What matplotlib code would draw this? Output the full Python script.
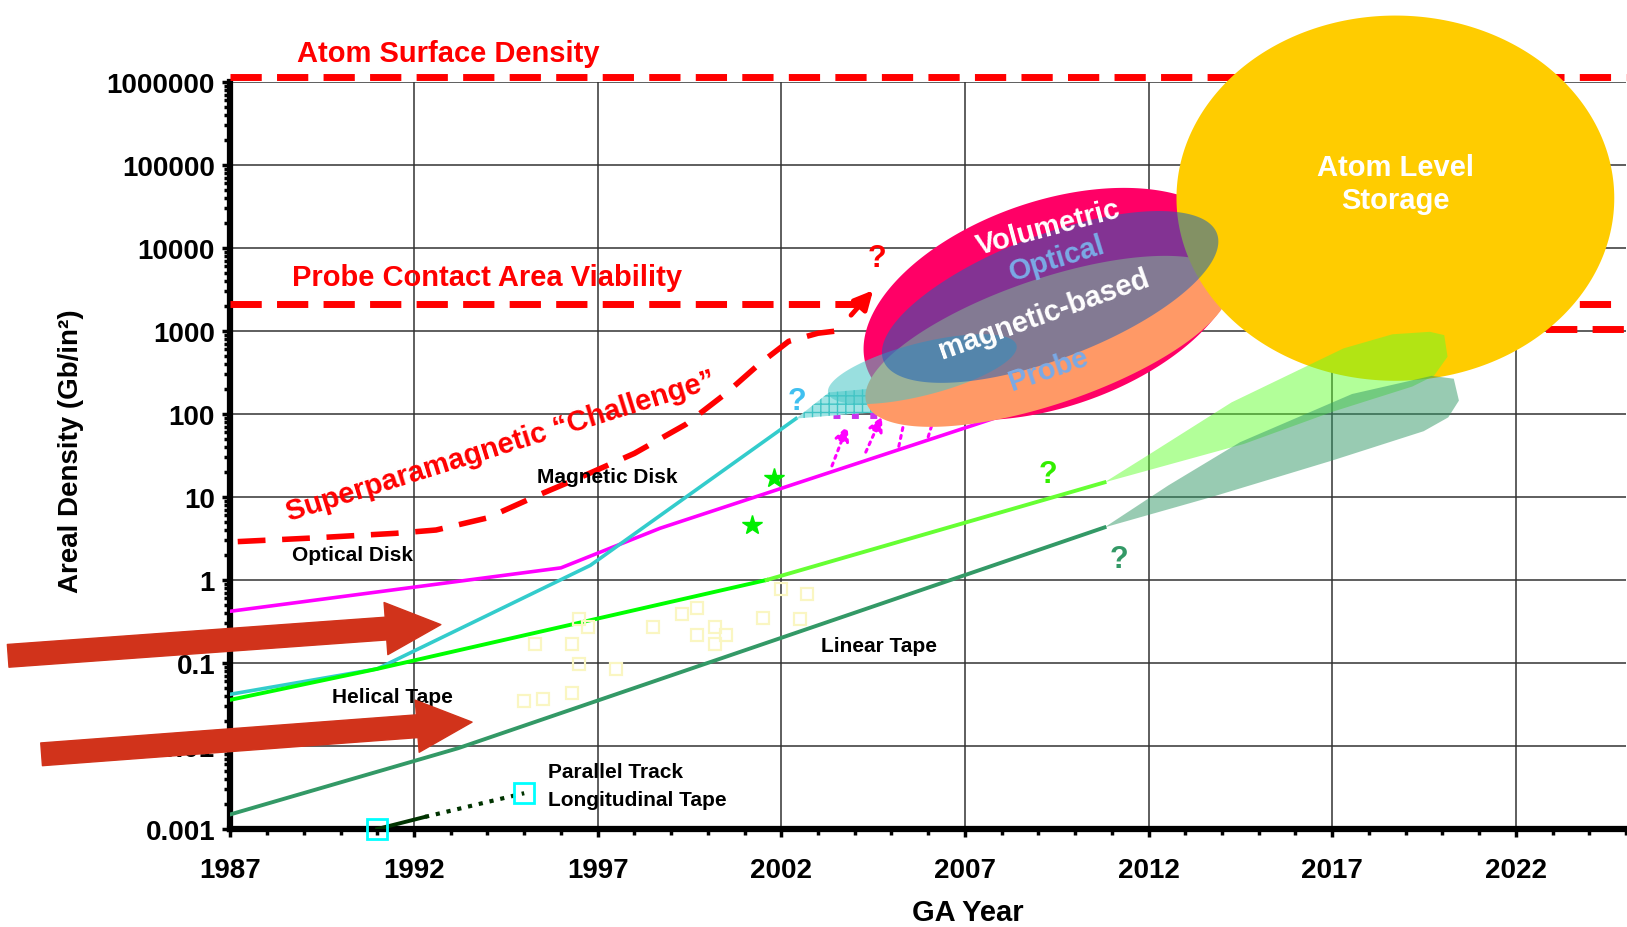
import numpy as np
import matplotlib
matplotlib.use("Agg")
import matplotlib.pyplot as plt
from matplotlib.patches import Polygon
from matplotlib.ticker import LogLocator, NullFormatter, MultipleLocator

plt.rcParams['font.family'] = ['Liberation Sans', 'DejaVu Sans']
plt.rcParams['font.weight'] = 'bold'

# ---- data: GA year vs areal density (Gb/in^2) ----
disk_years = [1987, 1996, 1998.7, 2008]
disk_vals = [0.42, 1.4, 4.2, 95]

optical_years = [1987, 1991, 1996.8, 2002.4]
optical_vals = [0.042, 0.085, 1.5, 88]

helical_years = [1987, 1991, 2001.6]
helical_vals = [0.036, 0.085, 1.0]
helical_proj_years = [2001.6, 2010.8]
helical_proj_vals = [1.0, 15]

linear_years = [1987, 1993.2, 2010.8]
linear_vals = [0.0015, 0.0094, 4.3]

parallel_years = [1991, 1992.3]
parallel_vals = [0.001, 0.0014]
parallel_dot_years = [1992.3, 1995]
parallel_dot_vals = [0.0014, 0.0027]
parallel_pt_years = [1991, 1995]
parallel_pt_vals = [0.001, 0.0027]

spm_years = [1987.2, 1989.2, 1991.5, 1992.6, 1994.0, 1995.4, 1996.6, 1998.0,
             1999.4, 2000.5, 2001.4, 2002.2, 2003.0, 2003.5]
spm_vals = [2.9, 3.2, 3.65, 4.0, 5.6, 10.6, 17.8, 33.5, 75, 178, 400, 750, 940, 1000]

tape_years = [1995.0, 1995.3, 1995.5, 1996.3, 1996.3, 1996.5, 1996.5, 1996.75, 1997.5, 1998.5,
              1999.3, 1999.7, 1999.7, 2000.2, 2000.2, 2000.5, 2001.5, 2002.0, 2002.5, 2002.7]
tape_vals = [0.035, 0.17, 0.037, 0.17, 0.043, 0.34, 0.096, 0.27, 0.085, 0.27,
             0.39, 0.46, 0.22, 0.27, 0.17, 0.22, 0.35, 0.77, 0.34, 0.68]

star_years = [2001.8, 2001.2]
star_vals = [16.8, 4.6]

push_start_years = [2003.38, 2004.3, 2005.2, 2006.0]
push_start_vals = [23.7, 34.7, 40.7, 53]
push_end_years = [2003.8, 2004.74, 2005.36, 2006.15]
push_end_vals = [72, 94, 87, 87]

cyan_fan_years = [2002.4, 2003.3, 2005.6, 2006.15, 2003.9]
cyan_fan_vals = [88, 182, 224, 115, 100]

green_fan_years = [2010.8, 2011.97, 2014.26, 2017.31, 2018.64, 2019.66, 2020.05, 2020.14,
                   2019.77, 2019.18, 2017.0, 2014.6]
green_fan_vals = [15, 31.6, 138, 617, 912, 977, 891, 490, 288, 214, 106, 43.6]

dark_fan_years = [2010.8, 2012.54, 2014.49, 2017.54, 2019.71, 2020.31, 2020.45, 2020.16,
                  2019.49, 2017.0, 2013.72]
dark_fan_vals = [4.3, 13.8, 45.7, 174, 288, 266, 145, 91, 62, 27.5, 10]

ytick_vals = [0.001, 0.01, 0.1, 1, 10, 100, 1000, 10000, 100000, 1000000]
ytick_labels = ['0.001', '0.01', '0.1', '1', '10', '100', '1000', '10000', '100000', '1000000']
xtick_years = [1987, 1992, 1997, 2002, 2007, 2012, 2017, 2022]


def blob(cx, clog, half_w, half_h, slope, n=300):
    # ellipse in (year, log10 density) space
    t = np.linspace(0, 2 * np.pi, n)
    yr = cx + half_w * np.cos(t)
    lg = clog + slope * half_w * np.cos(t) + half_h * np.sin(t)
    return np.column_stack([yr, 10 ** lg])


fig = plt.figure(figsize=(16.27, 9.28), dpi=100)
ax = fig.add_axes([0.1416, 0.1056, 0.8578, 0.805])
ax.set_yscale('log')
ax.set_xlim(1987, 2025)
ax.set_ylim(0.001, 1e6)

ax.set_axisbelow(True)
ax.grid(True, which='major', color='#333333', lw=1.1)
for s in ['top', 'right']:
    ax.spines[s].set_visible(False)
for s in ['left', 'bottom']:
    ax.spines[s].set_linewidth(4.5)

ax.set_yticks(ytick_vals)
ax.set_yticklabels(ytick_labels)
ax.yaxis.set_minor_locator(LogLocator(subs=np.arange(2, 10)))
ax.yaxis.set_minor_formatter(NullFormatter())
ax.set_xticks(xtick_years)
ax.set_xticklabels([str(y) for y in xtick_years])
ax.xaxis.set_minor_locator(MultipleLocator(1))
ax.tick_params(axis='both', which='major', labelsize=20, width=2.5, length=6)
ax.tick_params(axis='both', which='minor', width=2.5, length=4.5)
ax.tick_params(axis='y', pad=5)
ax.tick_params(axis='x', pad=14)

ax.set_ylabel('Areal Density (Gb/in²)', fontsize=20, fontweight='bold')
ax.yaxis.set_label_coords(-0.1048, 0.507)
ax.set_xlabel('GA Year', fontsize=21, fontweight='bold')
ax.xaxis.set_label_coords(0.5286, -0.092)

# red limit lines
dash = (4.5, 2.2)
ax.plot([1987, 2025], [1.15e6, 1.15e6], color='red', lw=5, dashes=dash, zorder=3, clip_on=False)
ax.plot([1987, 2025], [2100, 2100], color='red', lw=5, dashes=dash, zorder=3)
ax.plot([2019, 2025], [1050, 1050], color='red', lw=5, dashes=dash, zorder=3)
ax.plot(spm_years, spm_vals, color='red', lw=4, dashes=(5, 3), zorder=3)
ax.annotate('', xy=(2004.5, 3090), xytext=(2003.9, 1550),
            arrowprops=dict(arrowstyle='-|>', color='red', lw=3.5, mutation_scale=28,
                            shrinkA=0, shrinkB=0), zorder=3)

# technology lines
ax.plot(disk_years, disk_vals, color='#FF00FF', lw=2.6, zorder=3)
ax.plot(optical_years, optical_vals, color='#33CCCC', lw=2.6, zorder=3)
ax.plot(helical_years, helical_vals, color='#00FF00', lw=2.8, zorder=3)
ax.plot(helical_proj_years, helical_proj_vals, color='#66FF33', lw=2.8, zorder=3)
ax.plot(linear_years, linear_vals, color='#339966', lw=2.8, zorder=3)
ax.plot(parallel_years, parallel_vals, color='#003300', lw=2.8, zorder=3)
ax.plot(parallel_dot_years, parallel_dot_vals, color='#003300', lw=3, ls=':', zorder=3)
ax.plot(parallel_pt_years, parallel_pt_vals, ls='none', marker='s', ms=14, mfc='none',
        mec='#00FFFF', mew=2, zorder=3, clip_on=False)
ax.plot(tape_years, tape_vals, ls='none', marker='s', ms=9, mfc='none',
        mec='#FAF6C2', mew=1.6, zorder=3)
ax.plot(star_years, star_vals, ls='none', marker='*', ms=15, color='#00EE00', zorder=3)

for x0, y0, x1, y1, head in zip(push_start_years, push_start_vals, push_end_years,
                                push_end_vals, [True, True, False, False]):
    style = '-|>' if head else '-'
    ax.annotate('', xy=(x1, y1), xytext=(x0, y0),
                arrowprops=dict(arrowstyle=style, color='#FF00FF', lw=2.2, ls=':',
                                mutation_scale=22, shrinkA=0, shrinkB=0), zorder=3)
ax.plot([2003.4, 2004.6], [98, 98], color='#CC33EE', lw=5, ls=':', zorder=3)

# future regions
ax.add_patch(Polygon(np.column_stack([cyan_fan_years, cyan_fan_vals]), closed=True,
                     facecolor='#A0E4E4', edgecolor='#40C4C4', hatch='++', lw=0, zorder=3.5))
ax.add_patch(Polygon(blob(2009.35, 3.325, 5.11, 1.29, 0.106), closed=True,
                     facecolor='#FF0066', lw=0, zorder=4))
ax.add_patch(Polygon(blob(2009.26, 2.875, 4.97, 0.79, 0.133), closed=True,
                     facecolor='#FF9966', lw=0, zorder=4.1))
ax.add_patch(Polygon(blob(2005.84, 2.54, 2.57, 0.325, 0.104), closed=True,
                     facecolor='#46C6C6', alpha=0.55, lw=0, zorder=4.2))
ax.add_patch(Polygon(blob(2018.72, 4.6, 5.96, 2.2, 0.0), closed=True,
                     facecolor='#FFCC00', lw=0, zorder=4.3, clip_on=False))
ax.add_patch(Polygon(blob(2009.32, 3.41, 4.58, 0.79, 0.146), closed=True,
                     facecolor='#1A60BB', alpha=0.54, lw=0, zorder=4.4))
ax.add_patch(Polygon(np.column_stack([green_fan_years, green_fan_vals]), closed=True,
                     facecolor='#5FFF2A', alpha=0.48, lw=0, zorder=4.5))
ax.add_patch(Polygon(np.column_stack([dark_fan_years, dark_fan_vals]), closed=True,
                     facecolor='#339966', alpha=0.5, lw=0, zorder=4.6))

# labels
red_kw = dict(color='red', fontsize=21, ha='center', va='center', zorder=6)
ax.text(1992.93, 2.24e6, 'Atom Surface Density', clip_on=False, **red_kw)
ax.text(1994.0, 4470, 'Probe Contact Area Viability', **red_kw)
ax.text(1994.37, 42, 'Superparamagnetic \u201cChallenge\u201d', rotation=17.4, **red_kw)

blk_kw = dict(color='black', fontsize=15, va='center', zorder=6)
ax.text(1997.25, 17.8, 'Magnetic Disk', ha='center', **blk_kw)
ax.text(1990.33, 2.05, 'Optical Disk', ha='center', **blk_kw)
ax.text(1991.4, 0.04, 'Helical Tape', ha='center', **blk_kw)
ax.text(2004.66, 0.163, 'Linear Tape', ha='center', **blk_kw)
ax.text(1995.64, 0.00487, 'Parallel Track', ha='left', **blk_kw)
ax.text(1995.64, 0.00224, 'Longitudinal Tape', ha='left', **blk_kw)

q_kw = dict(fontsize=22, ha='center', va='center', zorder=6)
ax.text(2004.6, 7500, '?', color='red', **q_kw)
ax.text(2002.42, 145, '?', color='#40C0F0', **q_kw)
ax.text(2009.26, 18.8, '?', color='#33EE00', **q_kw)
ax.text(2011.18, 1.78, '?', color='#339966', **q_kw)

blob_kw = dict(fontsize=21, ha='center', va='center', zorder=6)
ax.text(2009.26, 17800, 'Volumetric', color='white', rotation=15, **blob_kw)
ax.text(2009.5, 7500, 'Optical', color='#7AAAE6', rotation=17, **blob_kw)
ax.text(2009.15, 1630, 'magnetic-based', color='white', rotation=19.5, **blob_kw)
ax.text(2009.26, 346, 'Probe', color='#7AAAE6', rotation=19, **blob_kw)
ax.text(2018.72, 59600, 'Atom Level\nStorage', color='white', linespacing=1.25, **blob_kw)

# big pointer arrows
big = dict(arrowstyle='simple,head_length=0.99,head_width=0.94,tail_width=0.41',
           color='#D1331B', mutation_scale=40, shrinkA=0, shrinkB=0)
ax.annotate('', xy=(1992.73, 0.29), xytext=(1980.95, 0.122), arrowprops=big,
            annotation_clip=False, zorder=7)
ax.annotate('', xy=(1993.58, 0.0194), xytext=(1981.86, 0.00794), arrowprops=big,
            annotation_clip=False, zorder=7)

fig.savefig('out.png', dpi=100)
